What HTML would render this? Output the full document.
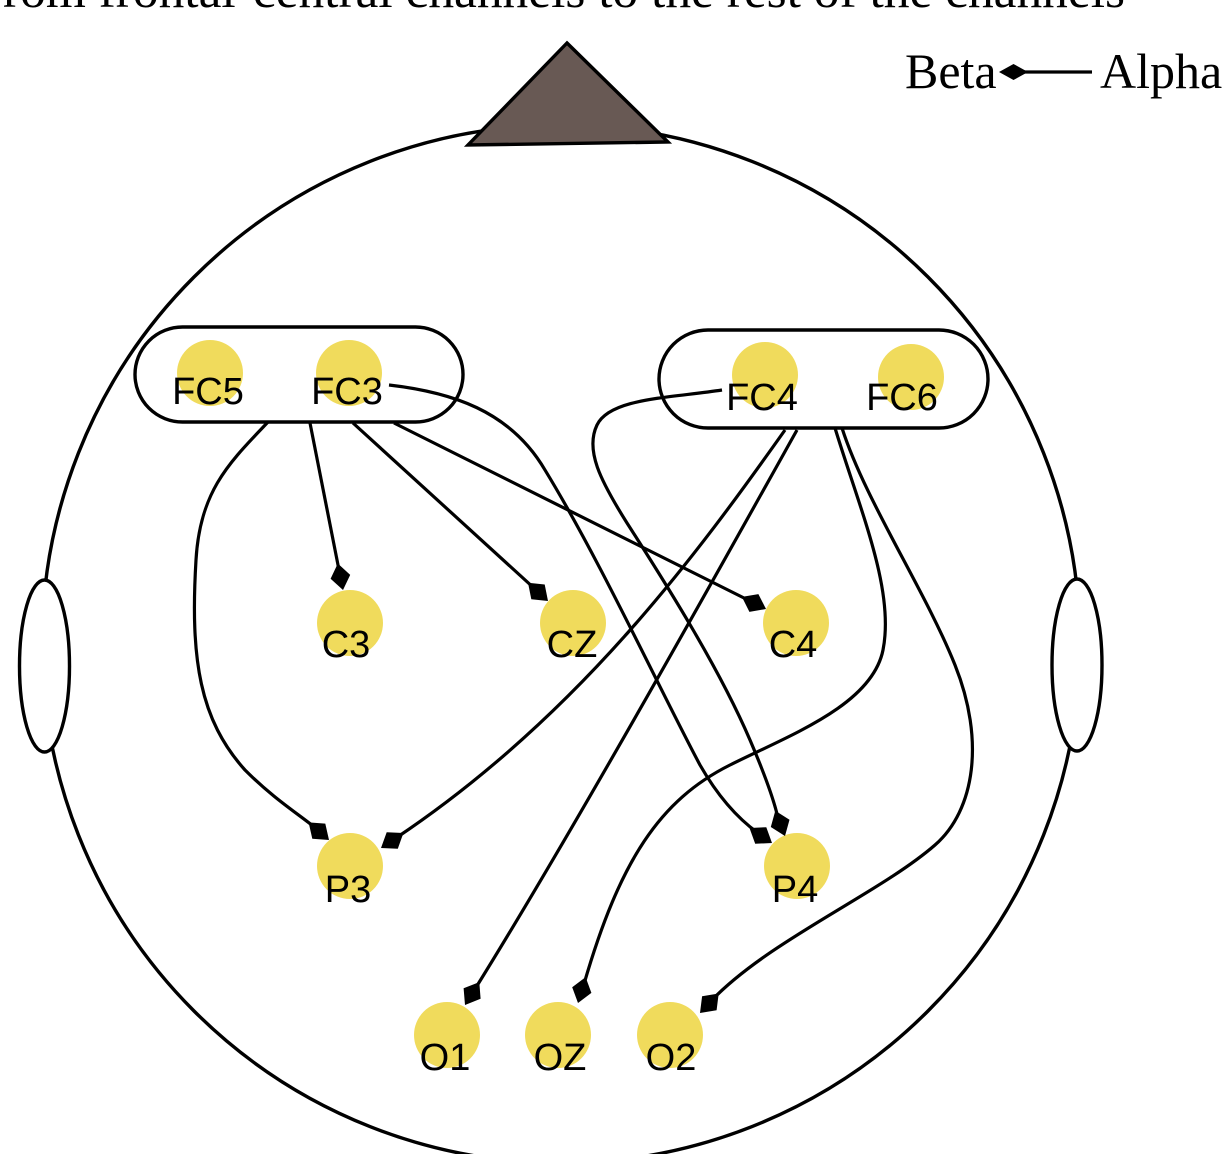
<!DOCTYPE html>
<html>
<head>
<meta charset="utf-8">
<style>
  html, body { margin: 0; padding: 0; background: #ffffff; }
  body { width: 1224px; height: 1154px; overflow: hidden; }
  svg { display: block; }
  .lbl { font-family: "Liberation Sans", Arial, sans-serif; font-size: 38px; fill: #000; text-anchor: middle; }
  .ser { font-family: "Liberation Serif", "Times New Roman", serif; fill: #000; }
  .ln { fill: none; stroke: #000; stroke-width: 3.2; }
</style>
</head>
<body>
<svg width="1224" height="1154" viewBox="0 0 1224 1154" xmlns="http://www.w3.org/2000/svg">
  <!-- title (cut off at top) -->
  <text class="ser" x="3" y="7" font-size="50" textLength="1122" lengthAdjust="spacingAndGlyphs">rom frontal-central channels to the rest of the channels</text>

  <!-- head -->
  <circle cx="561" cy="644" r="519" fill="none" stroke="#000" stroke-width="3.4"/>
  <!-- ears -->
  <ellipse cx="44.5" cy="666" rx="25" ry="86" fill="#fff" stroke="#000" stroke-width="3.4"/>
  <ellipse cx="1077" cy="665" rx="25" ry="86" fill="#fff" stroke="#000" stroke-width="3.4"/>
  <!-- nose -->
  <polygon points="567,43 668,142 468,145" fill="#685954" stroke="#000" stroke-width="3.4" stroke-linejoin="miter"/>

  <!-- legend -->
  <text class="ser" x="905" y="88" font-size="50">Beta</text>
  <path d="M1092,72 L1022,72" class="ln"/>
  <polygon points="999,72 1013.5,64 1028,72 1013.5,80" fill="#000"/>
  <text class="ser" x="1100" y="88" font-size="50">Alpha</text>

  <!-- groups -->
  <rect x="135" y="327" width="328" height="95" rx="47.5" ry="47.5" fill="none" stroke="#000" stroke-width="3.4"/>
  <rect x="659" y="330" width="329" height="98" rx="49" ry="49" fill="none" stroke="#000" stroke-width="3.4"/>

  <!-- node circles -->
  <g fill="#F0DB5C">
    <circle cx="210" cy="373" r="33"/>
    <circle cx="349" cy="373" r="33"/>
    <circle cx="765" cy="375" r="33"/>
    <circle cx="911" cy="377" r="33"/>
    <circle cx="350" cy="623" r="33"/>
    <circle cx="573" cy="623" r="33"/>
    <circle cx="796" cy="623" r="33"/>
    <circle cx="350" cy="866" r="33"/>
    <circle cx="797" cy="866" r="33"/>
    <circle cx="447" cy="1035" r="33"/>
    <circle cx="558" cy="1035" r="33"/>
    <circle cx="670" cy="1035" r="33"/>
  </g>

  <!-- connectors -->
  <path class="ln" d="M268,422 C230,462 200,490 196,560 C190,660 200,720 245,770 C275,800 300,815 318,830"/>
  <path class="ln" d="M310,423 L339,570"/>
  <path class="ln" d="M353,423 L535,589"/>
  <path class="ln" d="M394,423 L750,601"/>
  <path class="ln" d="M389,385 C450,392 510,410 545,470 C600,560 660,690 700,765 C720,800 740,820 758,833"/>
  <path class="ln" d="M722,390 C670,398 610,398 597,425 C585,450 600,480 627,523 C670,590 720,670 750,740 C765,775 774,800 778,818"/>
  <path class="ln" d="M785,430 C700,550 580,715 396,838"/>
  <path class="ln" d="M797,430 C730,550 580,820 475,989"/>
  <path class="ln" d="M835,428 C860,510 895,590 883,650 C872,705 790,735 730,765 C660,800 620,860 584,984"/>
  <path class="ln" d="M842,428 C865,500 925,590 955,665 C985,740 975,810 935,845 C880,893 770,940 712,1000"/>

  <!-- diamonds -->
  <g fill="#000">
    <polygon points="329,840 312.3,838.8 308.6,822.4 325.3,823.6"/>
    <polygon points="343,590 330.6,578.7 337.8,563.5 350.2,574.9"/>
    <polygon points="548,601 531.3,599.3 528.0,582.8 544.7,584.5"/>
    <polygon points="766,609 749.4,611.9 741.9,596.9 758.4,594.1"/>
    <polygon points="772,843 755.2,843.8 749.5,828.0 766.3,827.2"/>
    <polygon points="785,836 770.8,827.0 775.3,810.8 789.5,819.8"/>
    <polygon points="381,848 386.7,832.2 403.4,833.0 397.8,848.8"/>
    <polygon points="465,1005 463.6,988.3 479.3,982.1 480.6,998.8"/>
    <polygon points="578,1003 572.2,987.2 585.6,977.1 591.4,992.9"/>
    <polygon points="700,1013 702.1,996.3 718.7,993.5 716.6,1010.2"/>
  </g>

  <!-- labels -->
  <text class="lbl" x="208" y="404">FC5</text>
  <text class="lbl" x="347" y="404">FC3</text>
  <text class="lbl" x="762" y="410">FC4</text>
  <text class="lbl" x="902" y="410">FC6</text>
  <text class="lbl" x="346" y="657">C3</text>
  <text class="lbl" x="572" y="657">CZ</text>
  <text class="lbl" x="793" y="657">C4</text>
  <text class="lbl" x="348" y="902">P3</text>
  <text class="lbl" x="795" y="902">P4</text>
  <text class="lbl" x="445" y="1070">O1</text>
  <text class="lbl" x="560" y="1070">OZ</text>
  <text class="lbl" x="671" y="1070">O2</text>
</svg>
</body>
</html>
